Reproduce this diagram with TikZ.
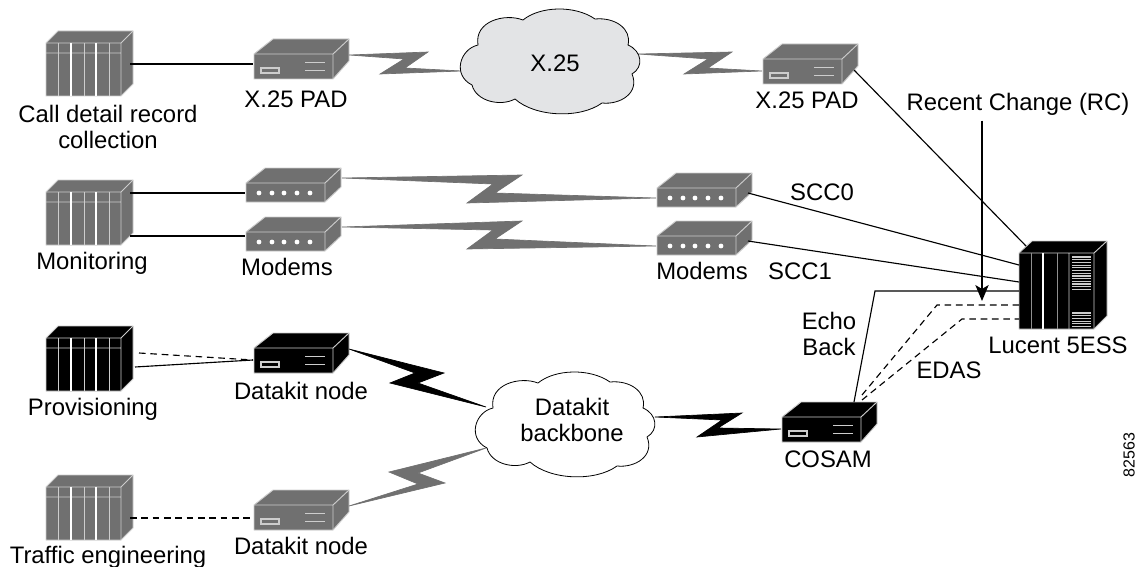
\documentclass[tikz,border=0pt]{standalone}
\usepackage{fontspec}
\setmainfont{Liberation Sans}
\usetikzlibrary{arrows.meta}

\definecolor{unitgray}{RGB}{112,112,112}
\definecolor{edgegray}{RGB}{205,205,205}
\definecolor{cloudgray}{RGB}{227,228,230}

\tikzset{every picture/.style={line width=0.85pt}}
\tikzset{
  unit/.style={yscale=-1},
  labeltext/.style={inner sep=0.75pt,align=center,font=\fontsize{17.9}{19.5}\selectfont},
  dashline/.style={dash pattern=on 5pt off 3.5pt},
  pics/rackbox/.style={code={
    \filldraw [fill=#1,draw=edgegray,line width=0.7pt] (0,0) -- (12,-12) -- (87,-12) -- (87,41) -- (75,53) -- (0,53) -- cycle;
    \draw [edgegray,line width=0.7pt] (0,0) -- (75,0) -- (87,-12) (75,0) -- (75,53) (0,10) -- (75,10);
    \foreach \x in {12,38,63} {\draw [line width=0.4pt,edgegray] (\x,0) -- (\x,53);}
    \draw [white,line width=0.9pt] (25,0) -- (25,53) (50,0) -- (50,53);
  }},
  pics/padbox/.style={code={
    \filldraw [fill=#1,draw=edgegray,line width=0.7pt] (0,0) -- (19,-15) -- (95,-15) -- (95,7) -- (79,25) -- (0,25) -- cycle;
    \draw [edgegray,line width=0.7pt] (0,0) -- (79,0) -- (95,-15) (79,0) -- (79,25);
    \draw [edgegray,line width=0.9pt] (7,14) rectangle (25,19);
    \draw [edgegray,line width=0.7pt] (51,8) -- (71,8) (51,16) -- (71,16);
    \coordinate (-e) at (95,1);
    \coordinate (-w) at (-1,12);
    \coordinate (-r) at (91,11);
  }},
  pics/modembox/.style={code={
    \filldraw [fill=#1,draw=edgegray,line width=0.7pt] (0,0) -- (19,-15) -- (95,-15) -- (95,4) -- (79,19) -- (0,19) -- cycle;
    \draw [edgegray,line width=0.7pt] (0,0) -- (79,0) -- (95,-15) (79,0) -- (79,19);
    \foreach \x in {13,26,38,51,64} {\fill [white] (\x,10) circle (2.4);}
    \coordinate (-b) at (96,-5);
    \coordinate (-l) at (-1,10);
    \coordinate (-r) at (91,5);
  }},
  pics/cloudshape/.style={code={
    \filldraw [fill=#1,draw=black,line width=0.6pt] (18,36) .. controls (0,40) and (-8,66) .. (12,76) .. controls (16,92) and (40,98) .. (55,90) .. controls (75,108) and (120,110) .. (142,94) .. controls (160,96) and (180,84) .. (172,65) .. controls (184,58) and (182,42) .. (168,36) .. controls (172,20) and (155,8) .. (135,10) .. controls (115,-4) and (80,-3) .. (63,11) .. controls (45,4) and (14,12) .. (18,36) -- cycle;
  }}
}

\begin{document}
\begin{tikzpicture}[x=0.75pt,y=0.75pt,yscale=-1,xscale=1]
\useasboundingbox (0,0) rectangle (1142,567);

%Racks
\pic [unit] (cdr) at (46,43) {rackbox=unitgray};
\pic [unit] (monitor) at (46,192) {rackbox=unitgray};
\pic [unit] (provision) at (46,338) {rackbox=black};
\pic [unit] (traffic) at (46,487) {rackbox=unitgray};

%Pads
\pic [unit] (padleft) at (254,54) {padbox=unitgray};
\pic [unit] (padright) at (763,59) {padbox=unitgray};
\pic [unit] (dkblack) at (254,348) {padbox=black};
\pic [unit] (dkgray) at (254,505) {padbox=unitgray};
\pic [unit] (cosam) at (782,417) {padbox=black};

%Modems
\pic [unit] (modemone) at (246,183) {modembox=unitgray};
\pic [unit] (modemtwo) at (246,232) {modembox=unitgray};
\pic [unit] (modemthree) at (657,188) {modembox=unitgray};
\pic [unit] (modemfour) at (657,236) {modembox=unitgray};

%Shape: Lucent 5ESS
\filldraw [fill=black,draw=edgegray,line width=0.7pt] (1019,253) -- (1032,241) -- (1107,241) -- (1107,316) -- (1094,329) -- (1019,329) -- cycle;
\draw [edgegray,line width=0.7pt] (1019,253) -- (1094,253) -- (1107,241) (1094,253) -- (1094,329) (1069,253) -- (1069,329);
\draw [white,line width=0.9pt] (1043,253) -- (1043,329);
\foreach \x in {1031,1057} {\draw [line width=0.3pt,edgegray!70!black] (\x,253) -- (\x,329);}
\foreach \y in {257,259.7,...,292} {\draw [edgegray,line width=0.9pt] (1072,\y) -- (1091,\y);}
\foreach \y in {313,315.7,...,328} {\draw [edgegray,line width=0.9pt] (1072,\y) -- (1091,\y);}

%Named ends
\coordinate (cdrout) at (130,64);
\coordinate (monoutone) at (130,193);
\coordinate (monouttwo) at (130,236);
\coordinate (provdash) at (139,353);
\coordinate (provline) at (135,367);
\coordinate (trafout) at (130,518);
\coordinate (ltop) at (1026,246);
\coordinate (lscczero) at (1019,265);
\coordinate (lsccone) at (1019,282);
\coordinate (lecho) at (1019,291);
\coordinate (ldashone) at (1019,305);
\coordinate (ldashtwo) at (1019,319);
\coordinate (echoup) at (854,402);
\coordinate (echobend) at (875,291);
\coordinate (dashoneup) at (862,395);
\coordinate (dashonebend) at (937,305);
\coordinate (dashtwoup) at (862,400);
\coordinate (dashtwobend) at (962,319);
\coordinate (rctip) at (982,301);

%Shape: Bolts
\filldraw [unitgray,line width=0.5pt] (padleft-e) -- (428,52) -- (405,68) -- (462,71) -- (380,74) -- (404,59) -- cycle;
\filldraw [unitgray,line width=0.5pt] (638,54) -- (732,52) -- (708,68) -- (padright-w) -- (684,74) -- (708,59) -- cycle;
\filldraw [unitgray,line width=0.5pt] (modemone-b) -- (522,175) -- (495,193) -- (modemthree-l) -- (467,203) -- (493,184) -- cycle;
\filldraw [unitgray,line width=0.5pt] (modemtwo-b) -- (522,221) -- (495,239) -- (modemfour-l) -- (467,249) -- (493,230) -- cycle;
\filldraw [black,line width=0.5pt] (dkblack-e) -- (444,373) -- (418,383) -- (486,407) -- (390,383) -- (415,373) -- cycle;
\filldraw [unitgray,line width=0.5pt] (dkgray-e) -- (445,483) -- (418,473) -- (486,448) -- (389,472) -- (418,484) -- cycle;
\filldraw [black,line width=0.5pt] (655,417) -- (742,413) -- (718,428) -- (cosam-w) -- (697,437) -- (722,420) -- cycle;

%Clouds
\pic [unit] (cloudx) at (460,9) {cloudshape=cloudgray};
\pic [unit] (cloudd) at (475,372) {cloudshape=white};

%Straight Lines
\draw (cdrout) -- (cdrout -| padleft-w);
\draw (monoutone) -- (monoutone -| modemone-l);
\draw (monouttwo) -- (monouttwo -| modemtwo-l);
\draw [dashline] (provdash) -- (dkblack-w);
\draw (provline) -- (dkblack-w);
\draw [dashline] (trafout) -- (trafout -| dkgray-w);
\draw (padright-r) -- (ltop);
\draw (modemthree-r) -- (lscczero);
\draw (modemfour-r) -- (lsccone);
\draw (echoup) -- (echobend) -- (lecho);
\draw [dashline] (dashoneup) -- (dashonebend) -- (ldashone);
\draw [dashline] (dashtwoup) -- (dashtwobend) -- (ldashtwo);

% Text Node
\draw (108,127) node (cdrtext) [labeltext] {Call detail record\\collection};
\draw (296,99) node (padlefttext) [labeltext] {X.25 PAD};
\draw (555,63) node (cloudxtext) [labeltext] {X.25};
\draw (807,100) node (padrighttext) [labeltext] {X.25 PAD};
\draw (1018,104) node (rctext) [labeltext] {Recent Change (RC)};
\draw (822,192) node (scczerotext) [labeltext] {SCC0};
\draw (92,263) node (monitortext) [labeltext] {Monitoring};
\draw (287,267) node (modemlefttext) [labeltext] {Modems};
\draw (702,271) node (modemrighttext) [labeltext] {Modems};
\draw (800,271) node (scconetext) [labeltext] {SCC1};
\draw (829,334) node (echotext) [labeltext] {Echo\\Back};
\draw (949,370) node (edastext) [labeltext] {EDAS};
\draw (1058,345) node (lucenttext) [labeltext] {Lucent 5ESS};
\draw (93,409) node (provisiontext) [labeltext] {Provisioning};
\draw (301,391) node (dkblacktext) [labeltext] {Datakit node};
\draw (572,420) node (clouddtext) [labeltext] {Datakit\\backbone};
\draw (828,459) node (cosamtext) [labeltext] {COSAM};
\draw (108,557) node (traffictext) [labeltext] {Traffic engineering};
\draw (301,546) node (dkgraytext) [labeltext] {Datakit node};
\draw (1129,455) node (figtext) [inner sep=0.75pt,rotate=90,font=\fontsize{12}{13}\selectfont] {82563};

%Arrow
\draw [-{Stealth[length=12pt,width=10pt,inset=3pt]},shorten <=3pt] (rctext.south -| rctip) -- (rctip);

\end{tikzpicture}
\end{document}
